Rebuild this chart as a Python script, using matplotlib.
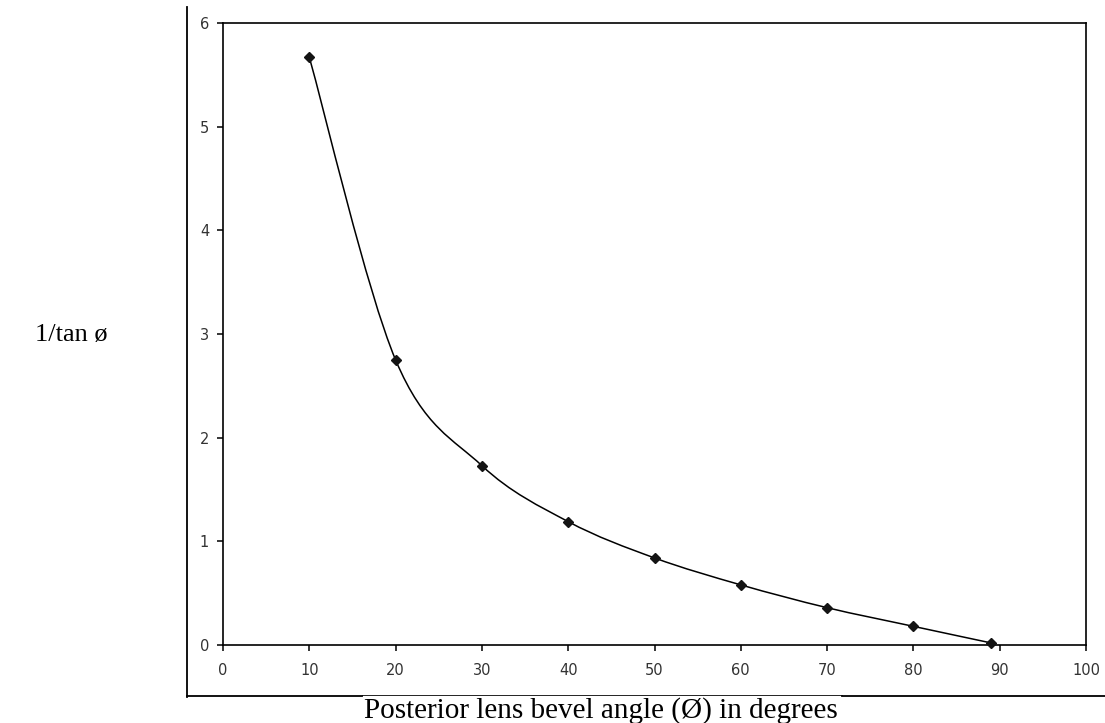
import numpy as np
import matplotlib
matplotlib.use("Agg")
import matplotlib.pyplot as plt
from matplotlib.lines import Line2D
from matplotlib.path import Path
from matplotlib.patches import PathPatch

angles = [10, 20, 30, 40, 50, 60, 70, 80, 89]
inv_tan = [5.67, 2.75, 1.73, 1.19, 0.84, 0.58, 0.36, 0.18, 0.02]
x_ticks = [0, 10, 20, 30, 40, 50, 60, 70, 80, 90, 100]
y_ticks = [0, 1, 2, 3, 4, 5, 6]
x_label = "Posterior lens bevel angle (Ø) in degrees"
y_label = "1/tan ø"

W, H = 1105, 723
fig = plt.figure(figsize=(W / 100, H / 100), dpi=100)
fig.patch.set_facecolor("white")

ax = fig.add_axes([223 / W, 1 - 645 / H, (1086 - 223) / W, (645 - 23) / H])
ax.set_xlim(0, 100)
ax.set_ylim(0, 6)
ax.set_xticks(x_ticks)
ax.set_yticks(y_ticks)
for s in ax.spines.values():
    s.set_linewidth(1.2)
    s.set_color("black")
ax.tick_params(axis="both", direction="out", length=4, width=1.1, colors="black",
               labelcolor="#333333", labelsize=10.5)
ax.tick_params(axis="x", pad=9)
ax.tick_params(axis="y", pad=6)

# Excel-style smoothed line through points (Bezier with 1/6 tension)
pts = np.column_stack([angles, inv_tan]).astype(float)
n = len(pts)
verts = [tuple(pts[0])]
codes = [Path.MOVETO]
for i in range(n - 1):
    p0 = pts[i - 1] if i > 0 else pts[i]
    p1 = pts[i]
    p2 = pts[i + 1]
    p3 = pts[i + 2] if i + 2 < n else pts[i + 1]
    b1 = p1 + (p2 - p0) / 6.0
    b2 = p2 - (p3 - p1) / 6.0
    verts += [tuple(b1), tuple(b2), tuple(p2)]
    codes += [Path.CURVE4, Path.CURVE4, Path.CURVE4]
ax.add_patch(PathPatch(Path(verts, codes), facecolor="none", edgecolor="black", lw=1.1, zorder=3))
ax.plot(angles, inv_tan, linestyle="none", marker="D", markersize=5.5,
        color="#141414", zorder=4, clip_on=False)

# outer frame lines (figure pixel coordinates)
def fx(px):
    return px / W

def fy(py):
    return 1 - py / H

fig.add_artist(Line2D([fx(187), fx(187)], [fy(7), fy(697)], color="black", lw=1.3))
fig.add_artist(Line2D([fx(187), fx(362)], [fy(696), fy(696)], color="black", lw=1.3))
fig.add_artist(Line2D([fx(362), fx(842)], [fy(695), fy(695)], color="black", lw=0.6))
fig.add_artist(Line2D([fx(842), fx(1105)], [fy(696), fy(696)], color="black", lw=1.3))

fig.text(fx(601), fy(711), x_label, family="Liberation Serif", fontsize=21,
         ha="center", va="center", color="black")
fig.text(fx(35), fy(335), y_label, family="Liberation Serif", fontsize=19,
         ha="left", va="center", color="black")

fig.savefig("out.png", dpi=100, facecolor="white")
